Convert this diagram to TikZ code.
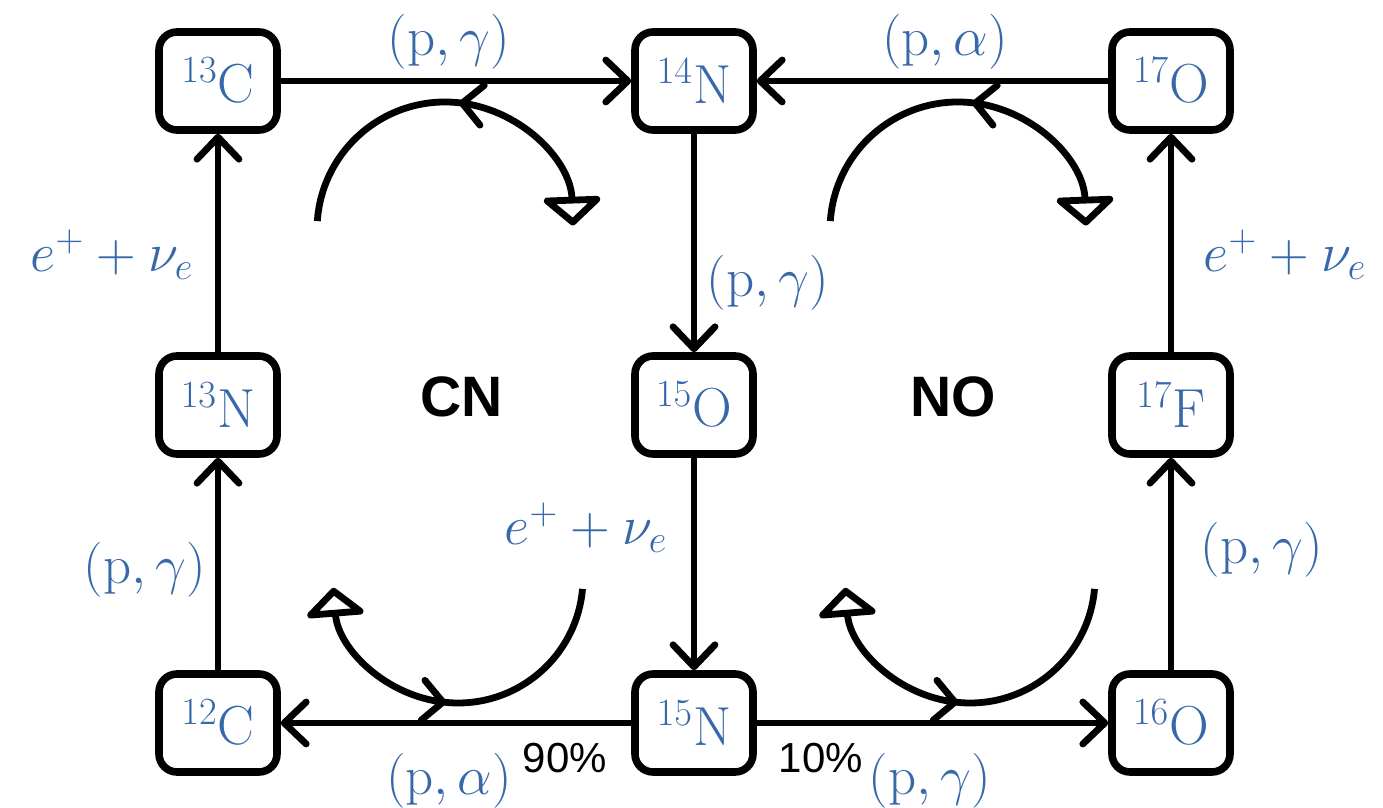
\RequirePackage{fix-cm}
\documentclass[tikz,border=0pt]{standalone}
\usepackage{fontspec}
\newfontfamily\arialfont{Liberation Sans}
\usetikzlibrary{arrows.meta,decorations.markings}
\definecolor{nucblue}{RGB}{55,105,170}
\begin{document}
\begin{tikzpicture}[x=0.5pt,y=0.5pt,
  nuc/.style={draw=black, line width=3.8pt, rounded corners=9pt, minimum width=59pt, minimum height=49pt, inner sep=0pt, text=nucblue, font=\fontsize{27.5}{33}\selectfont, fill=white},
  lab/.style={text=nucblue, font=\fontsize{27.5}{33}\selectfont, inner sep=0pt},
  pct/.style={font=\fontsize{21}{25}\selectfont\arialfont, inner sep=0pt},
  cyc/.style={font=\fontsize{28.5}{33}\selectfont\arialfont\bfseries, inner sep=0pt},
  flow/.style={line width=3.4pt, -{Straight Barb[length=11pt,width=21pt,round]}},
  cycarc/.style={line width=3.4pt, -{Triangle[open,length=15pt,width=33pt,round]},
    decoration={markings, mark=at position 0.53 with {\arrowreversed{Straight Barb[length=10pt,width=20pt,round,line width=3.4pt]}}},
    postaction={decorate}}
]
\useasboundingbox (0,0) rectangle (1383,808);

% nuclei
\node[nuc] (c13) at (218,727) {$^{13}$C};
\node[nuc] (n14) at (694,727) {$^{14}$N};
\node[nuc] (o17) at (1171,727) {$^{17}$O};
\node[nuc] (n13) at (218,403) {$^{13}$N};
\node[nuc] (o15) at (694,403) {$^{15}$O};
\node[nuc] (f17) at (1171,403) {$^{17}$F};
\node[nuc] (c12) at (218,85) {$^{12}$C};
\node[nuc] (n15) at (694,85) {$^{15}$N};
\node[nuc] (o16) at (1171,85) {$^{16}$O};

% reactions
\draw[flow] (c13) -- (n14);
\draw[flow] (o17) -- (n14);
\draw[flow] (n14) -- (o15);
\draw[flow] (o15) -- (n15);
\draw[flow] (n15) -- (c12);
\draw[flow] (n15) -- (o16);
\draw[flow] (c12) -- (n13);
\draw[flow] (n13) -- (c13);
\draw[flow] (o16) -- (f17);
\draw[flow] (f17) -- (o17);

% labels
\node[lab] (l1) at (449,766) {$(\mathrm{p},\gamma)$};
\node[lab] (l2) at (945,766) {$(\mathrm{p},\alpha)$};
\node[lab] (l3) at (768,525) {$(\mathrm{p},\gamma)$};
\node[lab] (l4) at (586,280) {$e^+ + \nu_e$};
\node[lab] (l5) at (112,553) {$e^+ + \nu_e$};
\node[lab] (l6) at (1285,553) {$e^+ + \nu_e$};
\node[lab] (l7) at (145,238) {$(\mathrm{p},\gamma)$};
\node[lab] (l8) at (1262,258) {$(\mathrm{p},\gamma)$};
\node[lab] (l9) at (449,27) {$(\mathrm{p},\alpha)$};
\node[lab] (l10) at (930,27) {$(\mathrm{p},\gamma)$};
\node[pct] (p90) at (565,50) {90\%};
\node[pct] (p10) at (821,50) {10\%};

\node[cyc] (cn) at (462,411) {CN};
\node[cyc] (no) at (953,411) {NO};

% cycle arcs
\draw[cycarc] (445,578) ++(176:64pt) arc[start angle=176, end angle=2, radius=64pt];
\draw[cycarc] (958,578) ++(176:64pt) arc[start angle=176, end angle=2, radius=64pt];
\draw[cycarc] (458,230) ++(-5:62.5pt) arc[start angle=-5, end angle=-175.5, radius=62.5pt];
\draw[cycarc] (970,230) ++(-5:62.5pt) arc[start angle=-5, end angle=-175.5, radius=62.5pt];
\end{tikzpicture}
\end{document}
